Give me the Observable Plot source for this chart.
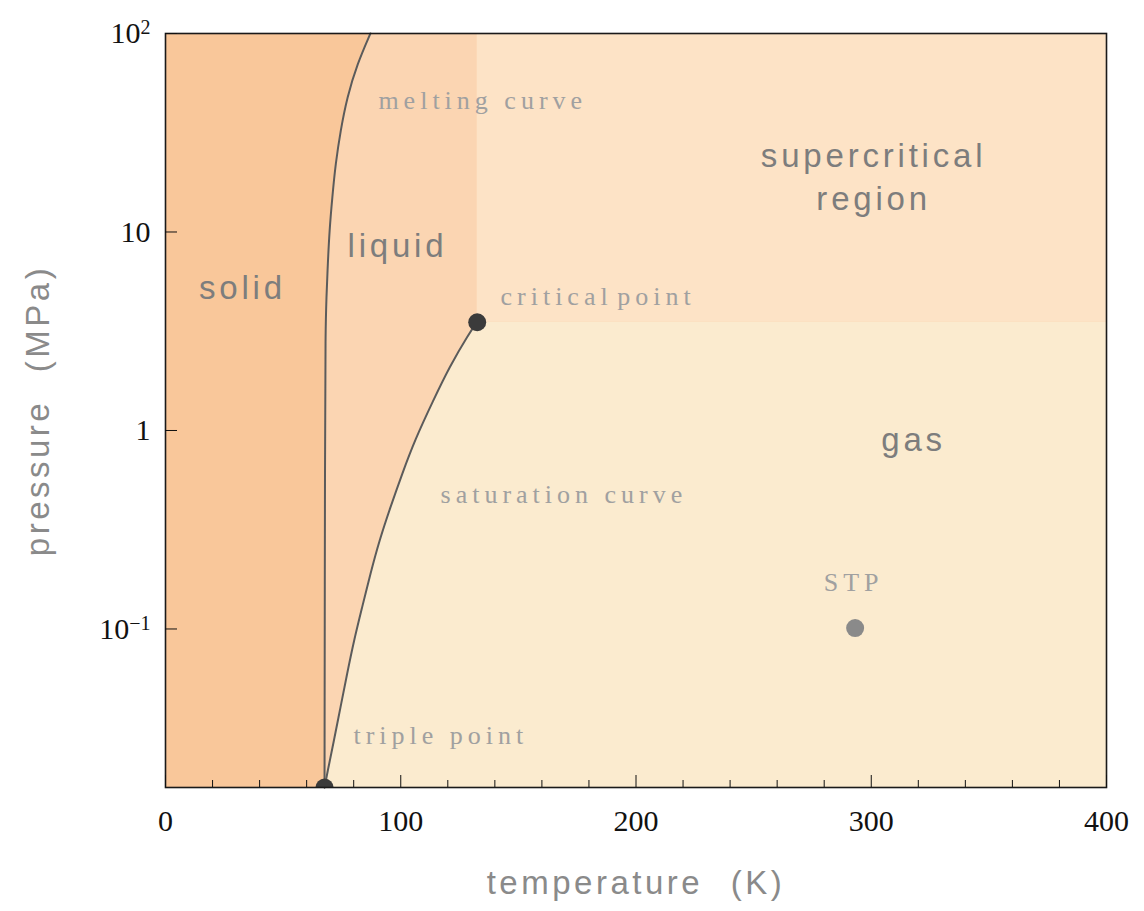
<!DOCTYPE html>
<html><head><meta charset="utf-8">
<script src="https://cdn.jsdelivr.net/npm/d3@7"></script>
<script src="https://cdn.jsdelivr.net/npm/@observablehq/plot@0.6"></script>
<style>
body{margin:0;background:#fff}
svg{display:block}
</style>
</head><body><div id="chart"></div>
<script>
// Melting curve (pressure MPa, temperature K)
const meltingP = [0.0159, 1, 3.19, 4.69, 6.92, 10.2, 14.97, 22.1, 32.4, 47.8, 70.3, 100];
const meltingT = [67.6, 67.8, 68.0, 68.4, 69.0, 69.7, 70.9, 72.3, 74.4, 77.2, 81.5, 87.1];
// Saturation curve
const saturationP = [0.0159, 0.01864, 0.0274, 0.0404, 0.0595, 0.0875, 0.1288, 0.190, 0.279, 0.411, 0.605, 0.890, 1.416, 2.08, 3.07, 3.51];
const saturationT = [67.6, 68.7, 71.6, 74.4, 77.2, 80.1, 83.6, 87.1, 90.9, 95.6, 100.6, 105.9, 113.8, 120.6, 128.9, 132.5];
// Points
const criticalPoint = [{T: 132.5, p: 3.51}];
const triplePoint = [{T: 67.6, p: 0.0159}];
const stpPoint = [{T: 293.15, p: 0.101}];
// Labels
const regionLabels = [
  {T: 32.7, p: 5.44, text: "solid"},
  {T: 98.6, p: 8.85, text: "liquid"},
  {T: 301, p: 19.5, text: "supercritical\nregion"},
  {T: 318, p: 0.933, text: "gas"}
];
const curveLabels = [
  {T: 90.5, p: 46, text: "melting curve"},
  {T: 142.4, p: 4.73, text: "critical point"},
  {T: 116.9, p: 0.476, text: "saturation curve"},
  {T: 79.9, p: 0.0291, text: "triple point"}
];
const pointLabels = [{T: 292.5, p: 0.171, text: "STP"}];
const xTitle = "temperature (K)";
const yTitle = "pressure (MPa)";
// Axes
const xTicks = [0, 100, 200, 300, 400];
const xMinorTicks = [20, 40, 60, 80, 120, 140, 160, 180, 220, 240, 260, 280, 320, 340, 360, 380];
const yTicks = [0.1, 1, 10, 100];
const yTickLabels = ["10^-1", "1", "10", "10^2"];
const xDomain = [0, 400];
const yDomain = [0.0159, 100];

const melting = meltingP.map((p, i) => ({p, T: meltingT[i]}));
const saturation = saturationP.map((p, i) => ({p, T: saturationT[i]}));

const colors = {solid: "#F9C79A", liquid: "#FBD5B2", supercritical: "#FDE3C6", gas: "#FBEBCF"};

const plot = Plot.plot({
  width: 1144, height: 911,
  marginLeft: 165, marginRight: 38, marginTop: 33, marginBottom: 124,
  x: {domain: xDomain},
  y: {type: "log", domain: yDomain},
  style: {fontFamily: "Liberation Serif", fontSize: "30px", color: "#111", background: "#fff"},
  marks: [
    Plot.frame({fill: colors.liquid, stroke: null}),
    Plot.areaX(melting, {y: "p", x1: xDomain[0], x2: "T", fill: colors.solid, curve: "basis"}),
    Plot.areaX(saturation, {y: "p", x1: "T", x2: xDomain[1], fill: colors.gas, curve: "basis"}),
    Plot.rect(criticalPoint, {x1: "T", x2: xDomain[1], y1: "p", y2: yDomain[1], fill: colors.supercritical}),
    Plot.line(melting, {x: "T", y: "p", stroke: "#5b5b5b", strokeWidth: 2, curve: "basis"}),
    Plot.line(saturation, {x: "T", y: "p", stroke: "#5b5b5b", strokeWidth: 2, curve: "basis"}),
    Plot.dot(criticalPoint, {x: "T", y: "p", r: 9, fill: "#3b3b3b"}),
    Plot.dot(triplePoint, {x: "T", y: "p", r: 9, fill: "#3b3b3b", clip: true}),
    Plot.dot(stpPoint, {x: "T", y: "p", r: 9, fill: "#8a8a8a"}),
    Plot.text(regionLabels, {x: "T", y: "p", text: "text", fill: "#7d7d7d", fontFamily: "Liberation Sans", fontSize: 33, lineHeight: 1.33}),
    Plot.text(curveLabels, {x: "T", y: "p", text: "text", textAnchor: "start", fill: "#a0a0a0", fontFamily: "Liberation Serif", fontSize: 26}),
    Plot.text(pointLabels, {x: "T", y: "p", text: "text", textAnchor: "middle", fill: "#a0a0a0", fontFamily: "Liberation Serif", fontSize: 26}),
    Plot.frame({stroke: "#1a1a1a", strokeWidth: 1.6}),
    Plot.axisX({ticks: xTicks, tickSize: -12, tickPadding: 34, tickFormat: d => String(d), label: null, fontSize: 30}),
    Plot.axisX({ticks: xMinorTicks, tickSize: -7, tickFormat: () => "", label: null}),
    Plot.axisY({ticks: yTicks, tickSize: -12, tickPadding: 27, tickFormat: d => yTickLabels[yTicks.indexOf(d)], label: null, fontSize: 30}),
    Plot.text([xTitle], {frameAnchor: "bottom", dy: 96, textAnchor: "middle", lineAnchor: "middle", text: d => d, fill: "#8a8a8a", fontFamily: "Liberation Sans", fontSize: 33}),
    Plot.text([yTitle], {frameAnchor: "left", dx: -127, textAnchor: "middle", lineAnchor: "middle", rotate: -90, text: d => d, fill: "#8a8a8a", fontFamily: "Liberation Sans", fontSize: 33})
  ]
});
document.getElementById("chart").append(plot);

const svg = d3.select(plot);
const regionSet = new Set(regionLabels.map(d => d.text.replace("\n", "")));
const curveSet = new Set(curveLabels.map(d => d.text).concat(pointLabels.map(d => d.text)));
svg.selectAll("text").each(function() {
  const sel = d3.select(this);
  const t = this.textContent;
  if (regionSet.has(t)) sel.style("letter-spacing", "3.8px");
  else if (curveSet.has(t)) {
    sel.style("letter-spacing", "5px");
    if (t === "critical point") sel.style("word-spacing", "-7px");
  } else if (t === xTitle || t === yTitle) {
    sel.style("letter-spacing", "3.5px").style("word-spacing", "15px");
  } else if (t.includes("^")) {
    const [base, exp] = t.split("^");
    sel.text(null);
    sel.append("tspan").text(base);
    sel.append("tspan").attr("dy", "-0.45em").attr("font-size", "20px").text(exp.replace("-", "\u2212"));
  }
});
</script>
</body></html>
